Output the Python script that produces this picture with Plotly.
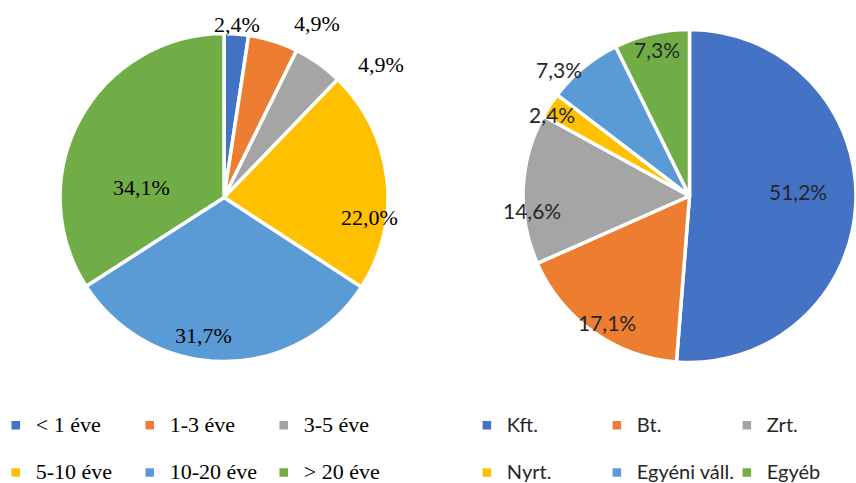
import math
import plotly.graph_objects as go

# Left pie: company age (%)
age_labels = ["< 1 éve", "1-3 éve", "3-5 éve", "5-10 éve", "10-20 éve", "> 20 éve"]
age_values = [2.4, 4.9, 4.9, 22.0, 31.7, 34.1]

# Right pie: company form (%)
form_labels = ["Kft.", "Bt.", "Zrt.", "Nyrt.", "Egyéni váll.", "Egyéb"]
form_values = [51.2, 17.1, 14.6, 2.4, 7.3, 7.3]

colors = ["#4472C4", "#ED7D31", "#A5A5A5", "#FFC000", "#5B9BD5", "#70AD47"]

# label placement style (radius fraction along mid-angle, pixel nudges)
age_label_r = [1.071, 1.194, 1.23, 0.878, 0.849, 0.472]
age_label_nudge = [(0, 0), (35, 11), (42, 30), (4, 36), (-20, 0), (-15, 27)]
form_label_r = [0.627, 0.919, 0.95, 0.97, 1.098, 0.915]
form_label_nudge = [(5, -9), (5, 3), (-1, 21), (-4, 6), (-16, 13), (2, 0)]

W, H = 856, 483
SERIF = "Liberation Serif"
SANS = "Lato"
LINE_W = 3.5
PER_ROW = 3

age_dom = dict(x=[0.0701, 0.4533], y=[0.2516, 0.9306])
form_dom = dict(x=[0.611, 1.0], y=[0.2495, 0.939])


def legend_labels(names, size):
    # first-row entries carry an empty second line to set the row spacing
    out = []
    for i, t in enumerate(names):
        s = f"<span style='font-size:{size}px'>{t}</span>"
        if i < PER_ROW:
            s += "<br> "
        out.append(s)
    return out


def fmt(v):
    return f"{v:.1f}".replace(".", ",") + "%"


def pie_labels(values, dom, rfrac, nudges, font):
    cx = (dom["x"][0] + dom["x"][1]) / 2 * W
    cy = H - (dom["y"][0] + dom["y"][1]) / 2 * H
    r = min((dom["x"][1] - dom["x"][0]) * W, (dom["y"][1] - dom["y"][0]) * H) / 2 - LINE_W / 2
    total = sum(values)
    cum = 0.0
    anns = []
    for v, k, (dx, dy) in zip(values, rfrac, nudges):
        mid = (cum + v / 2) / total * 2 * math.pi
        cum += v
        px = cx + k * r * math.sin(mid)
        py = cy - k * r * math.cos(mid)
        anns.append(dict(
            x=px / W, y=1 - py / H, xref="paper", yref="paper",
            text=fmt(v), showarrow=False, xanchor="center", yanchor="middle",
            xshift=dx, yshift=-dy, font=font,
        ))
    return anns


fig = go.Figure()
fig.add_trace(go.Pie(
    labels=legend_labels(age_labels, 22), values=age_values,
    sort=False, direction="clockwise", rotation=0,
    marker=dict(colors=colors, line=dict(color="white", width=LINE_W)),
    textinfo="none", domain=age_dom, hoverinfo="skip", legend="legend",
))
fig.add_trace(go.Pie(
    labels=legend_labels(form_labels, 20), values=form_values,
    sort=False, direction="clockwise", rotation=0,
    marker=dict(colors=colors, line=dict(color="white", width=LINE_W)),
    textinfo="none", domain=form_dom, hoverinfo="skip", legend="legend2",
))

annotations = (
    pie_labels(age_values, age_dom, age_label_r, age_label_nudge,
               dict(family=SERIF, size=22, color="black"))
    + pie_labels(form_values, form_dom, form_label_r, form_label_nudge,
                 dict(family=SANS, size=21, color="#262626"))
)

fig.update_layout(
    width=W, height=H,
    margin=dict(l=0, r=0, t=0, b=0, autoexpand=False),
    paper_bgcolor="white", plot_bgcolor="white",
    showlegend=True,
    annotations=annotations,
    legend=dict(orientation="h", x=-0.005, xanchor="left", y=0.156, yanchor="top",
                entrywidth=89, valign="top", font=dict(family=SERIF, size=17, color="black"),
                bgcolor="rgba(0,0,0,0)"),
    legend2=dict(orientation="h", x=1.001, xanchor="right", y=0.156, yanchor="top",
                 entrywidth=85, valign="top", font=dict(family=SANS, size=17, color="#262626"),
                 bgcolor="rgba(0,0,0,0)"),
)

fig.write_html("out.html", config={"displayModeBar": False},
               post_script="document.body.style.margin='0';document.body.style.padding='0';")
